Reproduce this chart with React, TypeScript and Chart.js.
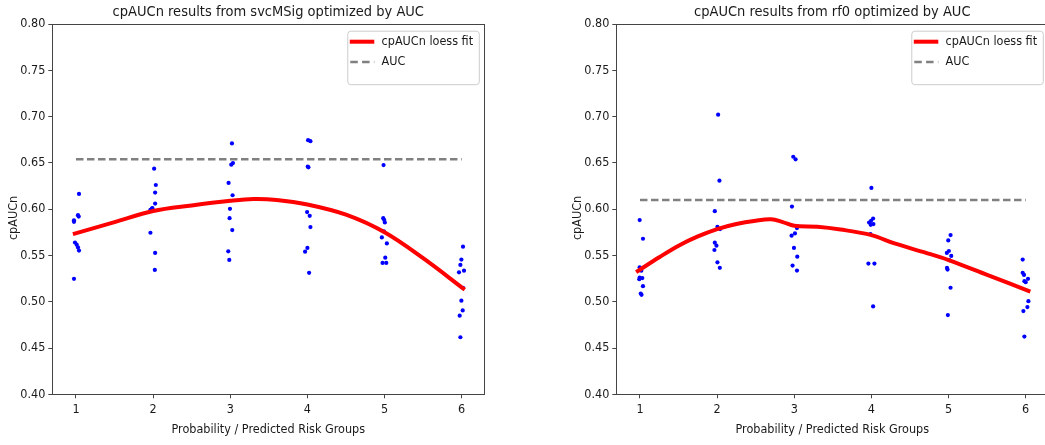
import React, { useEffect, useRef } from "react";
import { Chart, registerables } from "chart.js";

Chart.register(...registerables);

const FONT = '"DejaVu Sans Condensed", "DejaVu Sans", sans-serif';
const TEXT = "#1a1a1a";
const AXIS = "#444444";

const groupTicks = [1, 2, 3, 4, 5, 6];
const yTickValues = [0.4, 0.45, 0.5, 0.55, 0.6, 0.65, 0.7, 0.75, 0.8];
const xLabel = "Probability / Predicted Risk Groups";
const yLabel = "cpAUCn";
const legendLabels = ["cpAUCn loess fit", "AUC"];

// ---- Left panel: svcMSig ----
const svcTitle = "cpAUCn results from svcMSig optimized by AUC";
const svcX = [
  1.039, 1.026, 1.035, 0.974, 0.974, 0.987, 1.009, 1.026, 1.039, 0.974,
  2.013, 2.035, 2.026, 2.026, 1.983, 1.965, 1.991, 1.965, 2.026, 2.022,
  3.022, 3.035, 3.013, 2.978, 3.03, 2.996, 2.991, 3.026, 2.974, 2.987,
  4.009, 4.039, 4.013, 4.004, 3.996, 4.03, 4.039, 4.0, 3.97, 4.022,
  4.987, 4.983, 4.996, 5.004, 4.991, 4.965, 5.03, 5.009, 4.974, 5.022,
  6.017, 5.996, 5.983, 5.965, 6.03, 6.017, 5.996, 6.013, 5.974, 5.983,
];
const svcY = [
  0.6165, 0.5935, 0.592, 0.588, 0.5863, 0.564, 0.5616, 0.5587, 0.5552, 0.5247,
  0.6437, 0.6261, 0.6179, 0.606, 0.6007, 0.5993, 0.601, 0.5745, 0.5527, 0.5344,
  0.671, 0.6498, 0.648, 0.6283, 0.615, 0.6003, 0.5903, 0.5774, 0.5544, 0.5452,
  0.6745, 0.6734, 0.6452, 0.646, 0.5968, 0.5928, 0.5806, 0.5581, 0.5541, 0.5312,
  0.6476, 0.5903, 0.5882, 0.5856, 0.576, 0.5695, 0.563, 0.5476, 0.5419, 0.5419,
  0.5595, 0.5455, 0.5398, 0.5318, 0.5335, 0.515, 0.5011, 0.4906, 0.4849, 0.4616,
];
const svcFitX = [0.96, 1.5, 2, 2.5, 3, 3.3, 3.6, 4, 4.5, 5, 5.5, 6.04];
const svcFitY = [0.573, 0.586, 0.598, 0.604, 0.609, 0.611, 0.61, 0.605, 0.594, 0.575, 0.547, 0.513];
const svcAUC = 0.654;

// ---- Right panel: rf0 ----
const rfTitle = "cpAUCn results from rf0 optimized by AUC";
const rfX = [
  0.996, 1.039, 0.996, 1.017, 0.996, 1.03, 0.991, 1.039, 1.01, 1.02,
  2.013, 2.03, 1.97, 2.004, 2.039, 1.97, 1.991, 1.965, 2.004, 2.035,
  2.987, 3.017, 2.97, 3.035, 3.009, 2.965, 2.996, 3.039, 2.978, 3.035,
  4.0, 4.022, 3.996, 3.97, 4.026, 3.991, 3.987, 3.961, 4.039, 4.022,
  5.026, 4.996, 5.004, 4.978, 5.035, 4.987, 4.98, 5.01, 5.026, 4.991,
  5.961, 5.961, 5.978, 6.03, 5.983, 6.0, 6.035, 6.022, 5.97, 5.983,
];
const rfY = [
  0.5882, 0.568, 0.5372, 0.5335, 0.5261, 0.5255, 0.5243, 0.5168, 0.5089, 0.5075,
  0.7021, 0.6308, 0.5978, 0.581, 0.5785, 0.5638, 0.5605, 0.5559, 0.5426, 0.5366,
  0.6566, 0.6538, 0.6028, 0.5796, 0.5738, 0.5713, 0.5581, 0.5487, 0.539, 0.5337,
  0.6229, 0.5899, 0.5874, 0.5856, 0.5839, 0.5831, 0.5731, 0.5412, 0.5412, 0.4949,
  0.572, 0.5662, 0.5548, 0.5527, 0.5495, 0.5347, 0.5365, 0.545, 0.5151, 0.4856,
  0.5455, 0.5312, 0.529, 0.5247, 0.5222, 0.5211, 0.5006, 0.4942, 0.4899, 0.4624,
];
const rfFitX = [0.95, 1.25, 1.5, 1.75, 2, 2.25, 2.5, 2.7, 2.85, 3.0, 3.3, 3.6, 4.0, 4.3, 4.7, 5.0, 5.5, 6.06];
const rfFitY = [0.532, 0.548, 0.5605, 0.5705, 0.5785, 0.584, 0.5875, 0.589, 0.586, 0.582, 0.581, 0.578, 0.572, 0.563, 0.553, 0.545, 0.529, 0.511];
const rfAUC = 0.61;

const X_MIN = 0.693;
const X_MAX = 6.293;

const decorPlugin = {
  id: "decor",
  afterDraw(chart: any, _args: any, opts: any) {
    const { ctx, chartArea: a } = chart;
    ctx.save();
    // frame
    ctx.strokeStyle = AXIS;
    ctx.lineWidth = 1;
    ctx.strokeRect(Math.round(a.left) + 0.5, Math.round(a.top) + 0.5, Math.round(a.right - a.left), Math.round(a.bottom - a.top));
    // title
    ctx.fillStyle = TEXT;
    ctx.font = `14.5px ${FONT}`;
    ctx.textAlign = "center";
    ctx.textBaseline = "middle";
    ctx.fillText(opts.title, (a.left + a.right) / 2, 12);
    // y label
    ctx.save();
    ctx.translate(13.5, 218);
    ctx.rotate(-Math.PI / 2);
    ctx.font = `12.5px ${FONT}`;
    ctx.fillText(yLabel, 0, 0);
    ctx.restore();
    // legend
    ctx.font = `12.5px ${FONT}`;
    const tw = Math.max(...legendLabels.map((t) => ctx.measureText(t).width));
    const w = 34 + tw + 6;
    const h = 53.5;
    const x0 = a.right - 5.5 - w;
    const y0 = a.top + 6.7;
    ctx.beginPath();
    (ctx as any).roundRect(x0 + 0.5, y0 + 0.5, w, h, 3);
    ctx.fillStyle = "rgba(255,255,255,0.8)";
    ctx.fill();
    ctx.strokeStyle = "#cccccc";
    ctx.lineWidth = 1;
    ctx.stroke();
    const r1 = y0 + 11;
    const r2 = y0 + 31.3;
    ctx.lineCap = "butt";
    ctx.strokeStyle = "#ff0000";
    ctx.lineWidth = 4;
    ctx.beginPath();
    ctx.moveTo(x0 + 2.5, r1);
    ctx.lineTo(x0 + 27, r1);
    ctx.stroke();
    ctx.strokeStyle = "#808080";
    ctx.lineWidth = 2.5;
    ctx.setLineDash([7.5, 4.3]);
    ctx.beginPath();
    ctx.moveTo(x0 + 3, r2);
    ctx.lineTo(x0 + 27, r2);
    ctx.stroke();
    ctx.setLineDash([]);
    ctx.fillStyle = TEXT;
    ctx.textAlign = "left";
    ctx.fillText(legendLabels[0], x0 + 34.3, r1);
    ctx.fillText(legendLabels[1], x0 + 34.3, r2);
    ctx.restore();
  },
};

function buildConfig(title: string, xs: number[], ys: number[], fx: number[], fy: number[], auc: number): any {
  const points = xs.map((x, i) => ({ x, y: ys[i] }));
  const fit = fx.map((x, i) => ({ x, y: fy[i] }));
  const aucLine = [
    { x: groupTicks[0], y: auc },
    { x: groupTicks[groupTicks.length - 1], y: auc },
  ];
  return {
    type: "scatter",
    data: {
      datasets: [
        {
          label: legendLabels[0],
          type: "line",
          data: fit,
          borderColor: "#ff0000",
          borderWidth: 4,
          pointRadius: 0,
          fill: false,
          tension: 0.35,
        },
        {
          label: legendLabels[1],
          type: "line",
          data: aucLine,
          borderColor: "#808080",
          borderWidth: 2.5,
          borderDash: [7.5, 3.5],
          pointRadius: 0,
          fill: false,
        },
        {
          label: "points",
          data: points,
          backgroundColor: "#0000ff",
          borderWidth: 0,
          pointRadius: 2.1,
        },
      ],
    },
    options: {
      animation: false,
      responsive: false,
      layout: { padding: { left: 0, top: 24, right: 35.7, bottom: 0 } },
      plugins: {
        legend: { display: false },
        tooltip: { enabled: false },
        decor: { title },
      },
      scales: {
        x: {
          type: "linear",
          min: X_MIN,
          max: X_MAX,
          afterBuildTicks: (s: any) => {
            s.ticks = groupTicks.map((v) => ({ value: v }));
          },
          afterFit: (s: any) => {
            s.height = 50.7;
          },
          border: { display: false },
          grid: { display: true, drawOnChartArea: false, drawTicks: true, tickLength: 4, color: AXIS },
          ticks: {
            autoSkip: false,
            maxRotation: 0,
            padding: 4,
            color: TEXT,
            font: { family: FONT, size: 12.5 },
            callback: (v: any) => String(v),
          },
          title: {
            display: true,
            text: xLabel,
            color: TEXT,
            font: { family: FONT, size: 12.5 },
            padding: { top: 0, bottom: 8 },
          },
        },
        y: {
          type: "linear",
          min: yTickValues[0],
          max: yTickValues[yTickValues.length - 1],
          afterBuildTicks: (s: any) => {
            s.ticks = yTickValues.map((v) => ({ value: v }));
          },
          afterFit: (s: any) => {
            s.width = 52.3;
          },
          border: { display: false },
          grid: { display: true, drawOnChartArea: false, drawTicks: true, tickLength: 4, color: AXIS },
          ticks: {
            autoSkip: false,
            padding: 3,
            color: TEXT,
            font: { family: FONT, size: 12.5 },
            callback: (v: any) => Number(v).toFixed(2),
          },
        },
      },
    },
    plugins: [decorPlugin],
  };
}

function Panel(props: { left: number; cfg: () => any }) {
  const ref = useRef<HTMLCanvasElement | null>(null);
  useEffect(() => {
    if (!ref.current) return;
    const chart = new Chart(ref.current, props.cfg());
    return () => chart.destroy();
  }, []);
  return (
    <div style={{ position: "absolute", left: props.left, top: 0, width: 520, height: 445 }}>
      <canvas ref={ref} width={520} height={445} style={{ width: 520, height: 445, display: "block" }} />
    </div>
  );
}

export default function App() {
  return (
    <div
      style={{
        position: "fixed",
        left: 0,
        top: 0,
        width: 1045,
        height: 445,
        overflow: "hidden",
        background: "#ffffff",
      }}
    >
      <Panel left={0} cfg={() => buildConfig(svcTitle, svcX, svcY, svcFitX, svcFitY, svcAUC)} />
      <Panel left={564} cfg={() => buildConfig(rfTitle, rfX, rfY, rfFitX, rfFitY, rfAUC)} />
    </div>
  );
}
